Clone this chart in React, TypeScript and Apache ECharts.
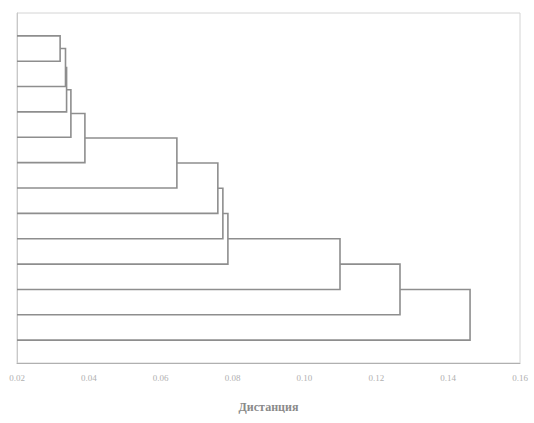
import React, { useEffect, useRef } from "react";
import * as echarts from "echarts";

// 13 objects (leaves), top to bottom
const leafCount = 13;
// merge steps (linkage): children indices (0..12 leaves, 13+ earlier merges)
const mergeChildA = [0, 13, 14, 15, 16, 17, 18, 19, 20, 21, 22, 23];
const mergeChildB = [1, 2, 3, 4, 5, 6, 7, 8, 9, 10, 11, 12];
// linkage distance of each merge
const mergeHeights = [0.032, 0.0335, 0.0338, 0.035, 0.0389, 0.0645, 0.0759, 0.0773, 0.0787, 0.1099, 0.1266, 0.1461];
// axis ticks
const xTicks = [0.02, 0.04, 0.06, 0.08, 0.1, 0.12, 0.14, 0.16];
const axisTitle = "Дистанция";

function buildRows() {
  const pos: number[] = [];
  const hgt: number[] = [];
  for (let i = 0; i < leafCount; i++) {
    pos.push(i);
    hgt.push(0);
  }
  const rows: number[][] = [];
  for (let k = 0; k < mergeHeights.length; k++) {
    const a = mergeChildA[k];
    const b = mergeChildB[k];
    const h = mergeHeights[k];
    rows.push([hgt[a], pos[a], hgt[b], pos[b], h]);
    pos.push((pos[a] + pos[b]) / 2);
    hgt.push(h);
  }
  return rows;
}

export default function App() {
  const ref = useRef<HTMLDivElement>(null);
  useEffect(() => {
    if (!ref.current) return;
    const chart = echarts.init(ref.current, null, { renderer: "svg" });
    const rows = buildRows();
    chart.setOption({
      animation: false,
      backgroundColor: "#ffffff",
      grid: {
        left: 17,
        right: 14,
        top: 13,
        bottom: 60,
        show: true,
        borderColor: "#d4d4d4",
        borderWidth: 1,
      },
      xAxis: {
        type: "value",
        min: xTicks[0],
        max: xTicks[xTicks.length - 1],
        interval: 0.02,
        name: axisTitle,
        nameLocation: "middle",
        nameGap: 38,
        nameTextStyle: {
          color: "#8a8a8a",
          fontSize: 12,
          fontFamily: "Liberation Serif",
          fontWeight: "bold",
        },
        axisLine: { show: true, onZero: false, lineStyle: { color: "#b0b0b0", width: 1 } },
        axisTick: { show: false },
        splitLine: { show: false },
        axisLabel: {
          color: "#b0b0b0",
          fontSize: 9,
          fontFamily: "Liberation Serif",
          margin: 10,
          formatter: (v: number) => v.toFixed(2),
        },
      },
      yAxis: {
        type: "value",
        inverse: true,
        min: -0.9,
        max: 12.9,
        axisLine: { show: true, onZero: false, lineStyle: { color: "#c8c8c8" } },
        axisTick: { show: false },
        axisLabel: { show: false },
        splitLine: { show: false },
      },
      series: [
        {
          type: "custom",
          data: rows,
          encode: { x: [0, 2, 4], y: [1, 3] },
          renderItem: (params: any, api: any) => {
            const cs = params.coordSys;
            const clampX = (x: number) => Math.max(cs.x, x);
            const pA = api.coord([api.value(0), api.value(1)]);
            const pB = api.coord([api.value(2), api.value(3)]);
            const pMa = api.coord([api.value(4), api.value(1)]);
            const pMb = api.coord([api.value(4), api.value(3)]);
            return {
              type: "polyline",
              shape: {
                points: [
                  [clampX(pA[0]), pA[1]],
                  [pMa[0], pMa[1]],
                  [pMb[0], pMb[1]],
                  [clampX(pB[0]), pB[1]],
                ],
              },
              style: { fill: "none", stroke: "#8e8e8e", lineWidth: 1.6 },
            };
          },
        },
      ],
    });
    return () => chart.dispose();
  }, []);
  return (
    <div
      ref={ref}
      style={{ position: "fixed", left: 0, top: 0, width: 534, height: 423, background: "#fff" }}
    />
  );
}
